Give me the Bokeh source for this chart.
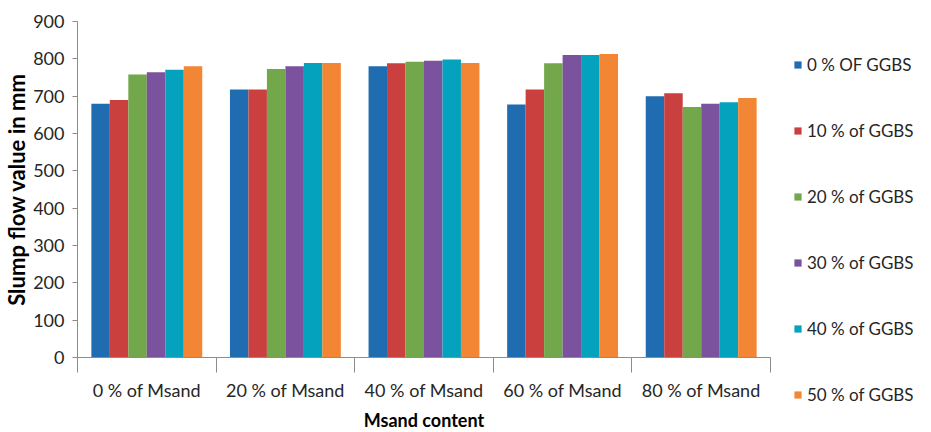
from bokeh.plotting import figure
from bokeh.models import ColumnDataSource, Range1d, FixedTicker, Legend, LegendItem
from bokeh.transform import dodge
from bokeh.embed import file_html
from bokeh.resources import INLINE

categories = ["0 % of Msand", "20 % of Msand", "40 % of Msand", "60 % of Msand", "80 % of Msand"]
series_names = ["0 % OF GGBS", "10 % of GGBS", "20 % of GGBS", "30 % of GGBS", "40 % of GGBS", "50 % of GGBS"]
ggbs_0 = [680, 718, 780, 678, 700]
ggbs_10 = [690, 718, 788, 718, 708]
ggbs_20 = [758, 773, 792, 788, 671]
ggbs_30 = [764, 780, 795, 810, 680]
ggbs_40 = [771, 789, 798, 810, 684]
ggbs_50 = [780, 789, 789, 813, 695]
y_ticks = [0, 100, 200, 300, 400, 500, 600, 700, 800, 900]
colors = ["#1F6CB0", "#C9403F", "#72A84B", "#7B529D", "#05A2BD", "#F38635"]

series = [ggbs_0, ggbs_10, ggbs_20, ggbs_30, ggbs_40, ggbs_50]
centers = [i + 0.5 for i in range(len(categories))]
data = {"x": centers}
for k, s in enumerate(series):
    data[f"s{k}"] = s
source = ColumnDataSource(data)

FONT = "Lato"
p = figure(frame_width=693, frame_height=336, output_backend="svg", toolbar_location=None,
           x_range=Range1d(0, len(categories)), y_range=Range1d(0, 900),
           min_border_left=74, min_border_right=148, min_border_top=21, min_border_bottom=10)
p.outline_line_color = None
p.xgrid.grid_line_color = None
p.ygrid.grid_line_color = None

bw = 0.8 / 6
items = []
for k in range(6):
    off = (k - 2.5) * bw
    r = p.vbar(x=dodge("x", off, range=p.x_range), top=f"s{k}", width=bw, bottom=0,
               source=source, fill_color=colors[k], line_color=None)
    items.append(LegendItem(label=series_names[k], renderers=[r]))

# x axis
p.xaxis.ticker = FixedTicker(ticks=centers, minor_ticks=list(range(len(categories) + 1)))
p.xaxis.major_label_overrides = {c: lab for c, lab in zip(centers, categories)}
p.xaxis.major_tick_line_color = None
p.xaxis.major_tick_in = 0
p.xaxis.major_tick_out = 0
p.xaxis.minor_tick_in = 0
p.xaxis.minor_tick_out = 15
p.xaxis.minor_tick_line_color = "#8C8C8C"
p.xaxis.axis_line_color = "#8C8C8C"
p.xaxis.major_label_standoff = 6
p.xaxis.major_label_text_font = FONT
p.xaxis.major_label_text_font_size = "18px"
p.xaxis.major_label_text_color = "#262626"
p.xaxis.axis_label = "Msand content"
p.xaxis.axis_label_text_font = FONT
p.xaxis.axis_label_text_font_size = "18px"
p.xaxis.axis_label_text_font_style = "bold"
p.xaxis.axis_label_text_color = "#000000"
p.xaxis.axis_label_standoff = 5

# y axis
p.yaxis.ticker = FixedTicker(ticks=y_ticks)
p.yaxis.minor_tick_line_color = None
p.yaxis.major_tick_in = 0
p.yaxis.major_tick_out = 5
p.yaxis.major_tick_line_color = "#8C8C8C"
p.yaxis.axis_line_color = "#8C8C8C"
p.yaxis.major_label_standoff = 8
p.yaxis.major_label_text_font = FONT
p.yaxis.major_label_text_font_size = "18px"
p.yaxis.major_label_text_color = "#262626"
p.yaxis.axis_label = "Slump flow value in mm"
p.yaxis.axis_label_text_font = FONT
p.yaxis.axis_label_text_font_size = "22px"
p.yaxis.axis_label_text_font_style = "bold"
p.yaxis.axis_label_text_color = "#000000"
p.yaxis.axis_label_standoff = 0

legend = Legend(items=items, location=(23, -48), orientation="vertical",
                glyph_width=9, glyph_height=9, label_height=21, spacing=45,
                padding=0, margin=0, border_line_color=None, background_fill_alpha=0,
                label_standoff=5, label_text_font=FONT, label_text_font_size="17px",
                label_text_color="#262626")
p.add_layout(legend, "right")

open("out.html", "w").write(file_html(p, INLINE))
